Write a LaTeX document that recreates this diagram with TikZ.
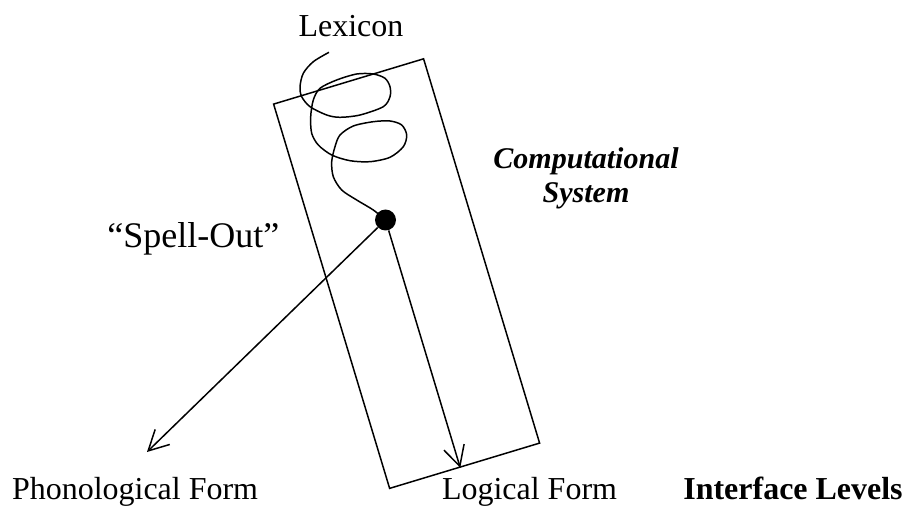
\documentclass[tikz,border=0pt]{standalone}
\usepackage{fontspec}
\setmainfont{Liberation Serif}
\usetikzlibrary{positioning, arrows.meta, calc}

\begin{document}
\begin{tikzpicture}[
    x = 0.02cm, y = -0.02cm,
    lbl/.style = {font = \fontsize{18.2}{19}\selectfont, inner sep = 0pt},
    biglbl/.style = {font = \fontsize{20.5}{22}\selectfont, inner sep = 0pt},
    sysbox/.style = {
      rectangle, draw, line width = 0.85pt,
      minimum width = 3.134cm, minimum height = 8.03cm,
      rotate = 16.8, inner sep = 0pt
    },
    spot/.style = {circle, fill, inner sep = 0pt, minimum size = 0.42cm},
    arr/.style = {-{Straight Barb[length=0.4cm, width=0.42cm]}, line width = 0.85pt}
  ]

  \useasboundingbox (0,0) rectangle (906,506);

  % ---- Computational system box and Spell-Out point ----
  \node[sysbox] (sys)   at (406.6,273.6) {};
  \node[spot]   (spell) at (385.5,220) {};

  % ---- Lexicon squiggle down to the point ----
  \draw[line width = 0.85pt] plot[smooth, tension = 0.5] coordinates {
    (329,52.3) (313.3,61.7) (303.3,73.3) (300,86.7) (301.7,96.7) (310,106.7)
    (326.7,115) (340,117.3) (360,115) (383.3,106.7) (390,96.7) (390,86.7)
    (385,78.3) (373.3,74) (356.7,74) (336.7,80) (320,88.3) (313.3,100)
    (310.7,116.7) (311.7,133.3) (318.3,145) (331.7,155) (350,160.7) (370,161.7)
    (390,157.3) (403.3,146.7) (406.7,135) (401.7,125) (390,121) (373.3,121.7)
    (353.3,126) (340,135) (335,146.7) (331.7,161.7) (333.3,176.7) (341.7,190)
    (356.7,200) (373.3,210) (spell)};

  % ---- Branches to the interface levels ----
  \coordinate (lfend) at ($(sys.south west)!0.47!(sys.south east)$);
  \coordinate (pfend) at (147,452);
  \draw[arr] (spell) -- (lfend);
  \draw[arr] (spell) -- (pfend);

  % ---- Labels ----
  \node[lbl, anchor = base]         (lex)  at (351,37)  {Lexicon};
  \node[biglbl, anchor = base west] (so)   at (107,248) {“Spell-Out”};
  \node[lbl, anchor = north west, align = center,
        font = \fontsize{17.1}{19.5}\selectfont\bfseries\itshape]
                                    (comp) at (493,147) {Computational\\System};
  \node[lbl, anchor = base west]    (pf)   at (11.7,499)  {Phonological Form};
  \node[lbl, anchor = base west]    (lf)   at (441.7,499) {Logical Form};
  \node[lbl, anchor = base west, font = \fontsize{18.2}{19}\selectfont\bfseries]
                                    (il)   at (683,499)   {Interface Levels};

\end{tikzpicture}
\end{document}
